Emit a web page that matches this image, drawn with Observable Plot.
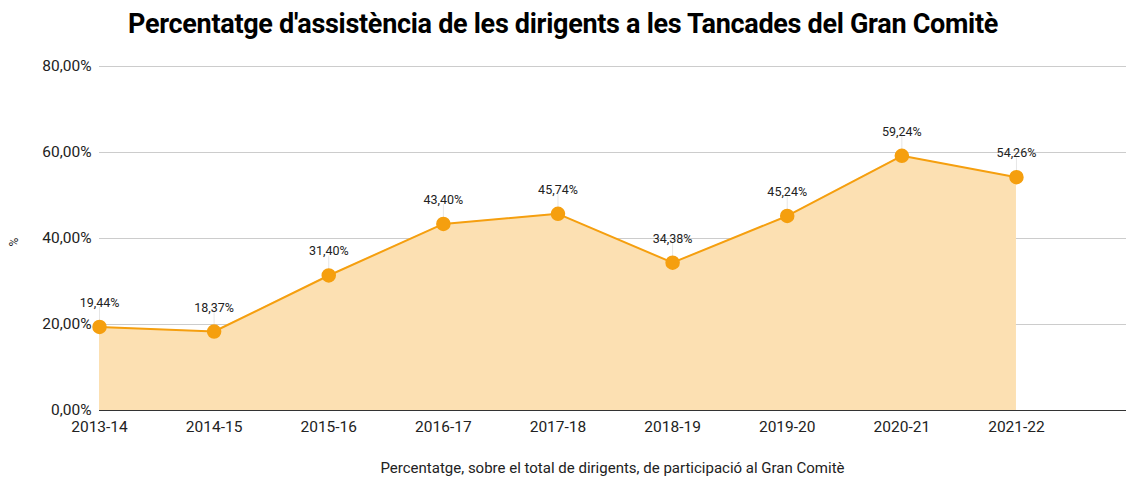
<!DOCTYPE html>
<html>
<head>
<meta charset="utf-8">
<script src="https://cdn.jsdelivr.net/npm/d3@7"></script>
<script src="https://cdn.jsdelivr.net/npm/@observablehq/plot@0.6"></script>
<style>
  body { margin: 0; background: #fff; font-family: Roboto, sans-serif; }
  #title { height: 50px; line-height: 48px; text-align: center; font-size: 27px; font-weight: 700; color: #000; letter-spacing: -0.3px; }
  #caption { height: 30px; line-height: 36px; text-align: center; font-size: 15px; color: #222; padding-left: 99px; }
  #chart svg { display: block; }
</style>
</head>
<body>
<div id="title">Percentatge d'assistència de les dirigents a les Tancades del Gran Comitè</div>
<div id="chart"></div>
<div id="caption">Percentatge, sobre el total de dirigents, de participació al Gran Comitè</div>
<script>
const seasons = ["2013-14", "2014-15", "2015-16", "2016-17", "2017-18", "2018-19", "2019-20", "2020-21", "2021-22"];
const values = [19.44, 18.37, 31.40, 43.40, 45.74, 34.38, 45.24, 59.24, 54.26];
const yTicks = [0, 20, 40, 60, 80];

const data = seasons.map((s, i) => ({i, season: s, value: values[i]}));
const fmt = v => v.toFixed(2).replace(".", ",") + "%";

const orange = "#f59f0f";

const chart = Plot.plot({
  width: 1126,
  height: 400,
  marginLeft: 99,
  marginRight: 0,
  marginTop: 16,
  marginBottom: 40,
  style: {fontFamily: "Roboto, sans-serif", fontSize: "15px", color: "#222", background: "#fff"},
  x: {domain: [0, 8.96], axis: null},
  y: {domain: [0, 80], axis: null},
  marks: [
    Plot.gridY(yTicks, {stroke: "#ccc", strokeOpacity: 1, strokeWidth: 1}),
    Plot.areaY(data, {x: "i", y: "value", fill: "#fce0b2"}),
    Plot.ruleX(data, {x: "i", y1: "value", y2: d => d.value + 4.5, stroke: "#e6e6e6", strokeWidth: 1}),
    Plot.ruleY([0], {stroke: "#333", strokeWidth: 1}),
    Plot.lineY(data, {x: "i", y: "value", stroke: orange, strokeWidth: 2}),
    Plot.dot(data, {x: "i", y: "value", r: 6.5, fill: orange, stroke: orange}),
    Plot.text(data, {x: "i", y: "value", text: d => fmt(d.value), dy: -24, fontSize: 12.5, fill: "#222"}),
    Plot.axisY(yTicks, {tickFormat: fmt, tickSize: 0, tickPadding: 8, fontSize: 15.5, fill: "#222", label: null}),
    Plot.axisX(d3.range(seasons.length), {tickFormat: i => seasons[i], tickSize: 0, tickPadding: 10, fontSize: 15.5, fill: "#222", label: null}),
    Plot.text(["%"], {frameAnchor: "left", dx: -85, dy: 8, rotate: -90, fontSize: 12, fill: "#222"})
  ]
});
document.getElementById("chart").appendChild(chart);
</script>
</body>
</html>
